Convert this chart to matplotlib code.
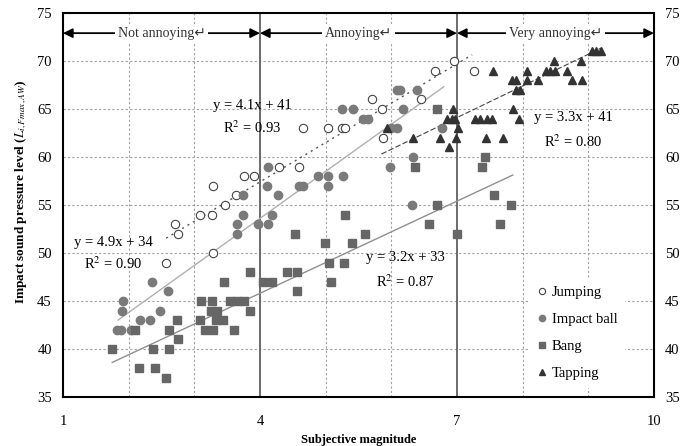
import numpy as np
import matplotlib
matplotlib.use("Agg")
import matplotlib.pyplot as plt

plt.rcParams['font.family'] = ['Liberation Serif', 'DejaVu Sans']
plt.rcParams['mathtext.fontset'] = 'stix'

## data (subjective magnitude, level in dB)
jump_x = [2.57, 2.70, 2.75, 3.09, 3.27, 3.28, 3.28, 3.47, 3.64, 3.76, 3.91, 4.29,
          4.60, 4.65, 5.03, 5.25, 5.30, 5.70, 5.86, 5.87, 6.45, 6.66, 6.95, 7.26]
jump_y = [49, 53, 52, 54, 54, 50, 57, 55, 56, 58, 58, 59,
          59, 63, 63, 63, 63, 66, 65, 62, 66, 69, 70, 69]

ball_x = [1.83, 1.88, 1.90, 1.91, 2.03, 2.17, 2.32, 2.36, 2.48, 2.60, 3.65, 3.65,
          3.74, 3.74, 3.97, 4.12, 4.18, 4.10, 4.12, 4.27, 4.60, 4.65, 4.88, 5.03,
          5.03, 5.26, 5.25, 5.42, 5.57, 5.65, 5.98, 6.00, 6.08, 6.09, 6.13, 6.18,
          6.33, 6.31, 6.39, 6.77]
ball_y = [42, 42, 44, 45, 42, 43, 43, 47, 44, 46, 52, 53,
          54, 56, 53, 53, 54, 57, 59, 56, 57, 57, 58, 58,
          57, 58, 65, 65, 64, 64, 59, 63, 63, 67, 67, 65,
          60, 55, 67, 63]

bang_x = [1.75, 2.10, 2.16, 2.37, 2.40, 2.57, 2.61, 2.61, 2.74, 2.75, 3.09, 3.10,
          3.16, 3.25, 3.27, 3.28, 3.33, 3.35, 3.43, 3.45, 3.55, 3.60, 3.65, 3.75,
          3.85, 3.85, 4.05, 4.18, 4.41, 4.53, 4.56, 4.56, 4.99, 5.05, 5.08, 5.28,
          5.29, 5.40, 5.60, 6.36, 6.57, 6.69, 6.69, 7.00, 7.38, 7.43, 7.56, 7.65, 7.83]
bang_y = [40, 42, 38, 40, 38, 37, 40, 42, 43, 41, 43, 45,
          42, 44, 45, 42, 43, 44, 43, 47, 45, 42, 45, 45,
          44, 48, 47, 47, 48, 52, 48, 46, 51, 49, 47, 49,
          54, 51, 52, 59, 53, 55, 65, 52, 59, 60, 56, 53, 55]

tap_x = [5.93, 6.33, 6.74, 6.88, 6.98, 7.02, 6.85, 6.92, 6.97, 6.94, 7.27, 7.35,
         7.45, 7.53, 7.44, 7.70, 7.85, 7.94, 7.55, 7.84, 7.90, 7.90, 7.96, 8.07,
         8.07, 8.23, 8.35, 8.42, 8.49, 8.48, 8.67, 8.75, 8.89, 8.90, 9.05, 9.12, 9.20]
tap_y = [63, 62, 62, 61, 62, 63, 64, 64, 64, 65, 64, 64,
         64, 64, 62, 62, 65, 64, 69, 68, 68, 67, 67, 68,
         69, 68, 69, 69, 69, 70, 69, 68, 70, 68, 71, 71, 71]

## fitted lines: slope, intercept, x range
fits = {
    'jump': (4.1, 41, 2.57, 7.23),
    'ball': (4.9, 34, 1.84, 6.80),
    'bang': (3.2, 33, 1.75, 7.85),
    'tap':  (3.3, 41, 5.85, 9.20),
}

zones = ['Not annoying\u21b5', 'Annoying\u21b5', 'Very annoying\u21b5']
zone_edges = [1, 4, 7, 10]

########################################################
fig = plt.figure(figsize=(6.83, 4.46), dpi=100)
ax = fig.add_axes([0.0922, 0.1099, 0.8653, 0.8610])
ax.set_xlim(1, 10)
ax.set_ylim(35, 75)

# grid
for yv in range(40, 75, 5):
    ax.axhline(yv, color='#a0a0a0', lw=0.8, ls=(0, (2, 2)), zorder=0)
for xv in [2, 3, 5, 6, 8, 9]:
    ax.axvline(xv, color='#a0a0a0', lw=0.8, ls=(0, (2, 2)), zorder=0)
for xv in [4, 7]:
    ax.axvline(xv, color='#606060', lw=1.3, zorder=1)

# fit lines
styles = {'jump': dict(color='#555555', ls=(0, (1.5, 3)), lw=1.0),
          'ball': dict(color='#b0b0b0', ls='-', lw=1.0),
          'bang': dict(color='#909090', ls='-', lw=1.0),
          'tap':  dict(color='#444444', ls=(0, (5, 2)), lw=0.8)}
for key, (a, b, x0, x1) in fits.items():
    xx = np.array([x0, x1])
    ax.plot(xx, a * xx + b, zorder=2, **styles[key])

# points
ax.plot(jump_x, jump_y, 'o', ms=6, mfc='white', mec='#444444', mew=0.8,
        ls='none', label='Jumping', zorder=3)
ax.plot(ball_x, ball_y, 'o', ms=6, mfc='#7a7a7a', mec='#7a7a7a',
        ls='none', label='Impact ball', zorder=3)
ax.plot(bang_x, bang_y, 's', ms=5.5, mfc='#666666', mec='#666666',
        ls='none', label='Bang', zorder=3)
ax.plot(tap_x, tap_y, '^', ms=6, mfc='#333333', mec='#333333',
        ls='none', label='Tapping', zorder=3)

# equations
eq_fs = 10.5
ax.text(3.88, 65.4, 'y = 4.1x + 41', ha='center', va='center', fontsize=eq_fs)
ax.text(3.88, 63.0, r'R$^2$ = 0.93', ha='center', va='center', fontsize=eq_fs)
ax.text(1.76, 51.1, 'y = 4.9x + 34', ha='center', va='center', fontsize=eq_fs)
ax.text(1.76, 48.9, r'R$^2$ = 0.90', ha='center', va='center', fontsize=eq_fs)
ax.text(8.77, 64.1, 'y = 3.3x + 41', ha='center', va='center', fontsize=eq_fs)
ax.text(8.77, 61.6, r'R$^2$ = 0.80', ha='center', va='center', fontsize=eq_fs)
ax.text(6.21, 49.5, 'y = 3.2x + 33', ha='center', va='center', fontsize=eq_fs)
ax.text(6.21, 47.0, r'R$^2$ = 0.87', ha='center', va='center', fontsize=eq_fs)

# annoyance zones
for i, name in enumerate(zones):
    x0, x1 = zone_edges[i], zone_edges[i + 1]
    ax.annotate('', xy=(x0, 72.9), xytext=(x1, 72.9),
                arrowprops=dict(arrowstyle='<|-|>', color='black', lw=1.3,
                                shrinkA=0, shrinkB=0, mutation_scale=14))
    ax.text((x0 + x1) / 2, 72.9, name, ha='center', va='center', fontsize=10,
            color='#333333', bbox=dict(fc='white', ec='none', pad=2), zorder=5)

# axes
ax.set_xticks([1, 4, 7, 10])
ax.set_yticks(range(35, 80, 5))
ax.tick_params(length=0, labelsize=10.5, pad=7, labelright=True)
ax.tick_params(axis='x', pad=13)
ax.tick_params(axis='y', which='both', right=False)
ax.yaxis.set_tick_params(pad=8)
for sp in ax.spines.values():
    sp.set_linewidth(1.5)
ax.set_xlabel('Subjective magnitude', fontsize=9, fontweight='bold', labelpad=4)
ax.set_ylabel(r'Impact sound pressure level ($L_{i,Fmax,AW}$)', fontsize=9.5,
              fontweight='bold')
ax.yaxis.set_label_coords(-0.058, 0.535)

leg = ax.legend(loc='lower left', bbox_to_anchor=(0.778, 0.005), frameon=True,
                fontsize=10.5, handlelength=0.6, handletextpad=0.4,
                labelspacing=0.95, borderpad=0.5, markerscale=0.75)
leg.get_frame().set_facecolor('white')
leg.get_frame().set_edgecolor('none')
leg.get_frame().set_alpha(1)

fig.savefig('out.png', dpi=100)
